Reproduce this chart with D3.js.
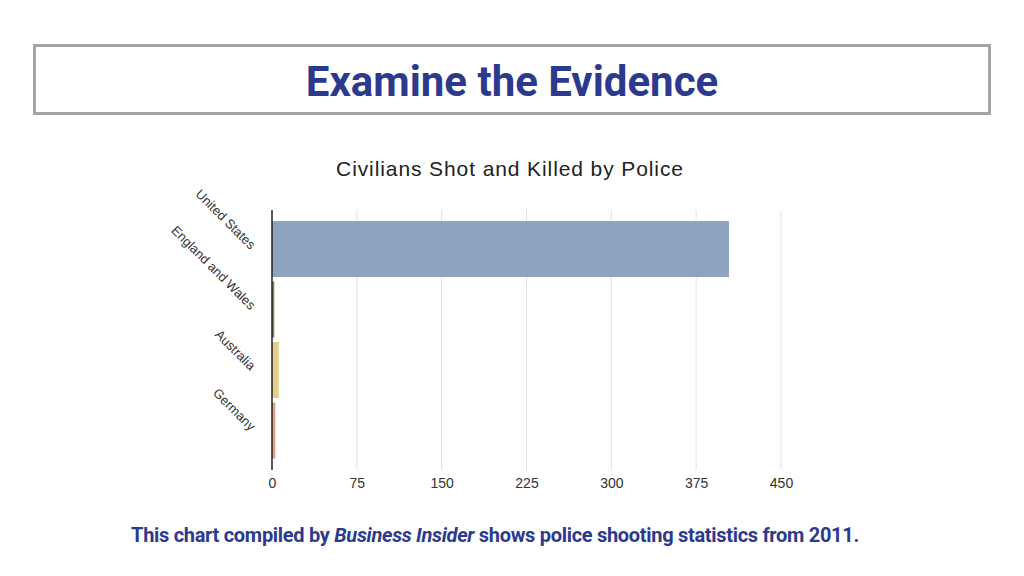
<!DOCTYPE html>
<html>
<head>
<meta charset="utf-8">
<script src="https://cdn.jsdelivr.net/npm/d3@7"></script>
<style>
  body { margin: 0; background: #fff; }
  svg { display: block; }
</style>
</head>
<body>
<div id="chart"></div>
<script>
// data
var countries = ["United States", "England and Wales", "Australia", "Germany"];
var killed = [404, 2, 6, 3];
var barColors = ["#8ea3bd", "#6f8f62", "#e2cf8a", "#e2a084"];
var tickValues = [0, 75, 150, 225, 300, 375, 450];

var W = 1024, H = 576;

var svg = d3.select("#chart").append("svg")
    .attr("width", W)
    .attr("height", H);

// header box
svg.append("rect")
    .attr("x", 34.5).attr("y", 45.5)
    .attr("width", 955).attr("height", 68)
    .attr("fill", "#fff")
    .attr("stroke", "#a3a3a3")
    .attr("stroke-width", 3);

svg.append("text")
    .attr("x", 512).attr("y", 96)
    .attr("text-anchor", "middle")
    .style("font-family", "Roboto, sans-serif")
    .style("font-weight", "bold")
    .style("font-size", "42px")
    .style("fill", "#2c3a8e")
    .text("Examine the Evidence");

// chart title
svg.append("text")
    .attr("x", 510).attr("y", 176)
    .attr("text-anchor", "middle")
    .style("font-family", "'Liberation Sans', Arial, sans-serif")
    .style("font-size", "21px")
    .style("letter-spacing", "0.9px")
    .style("fill", "#222")
    .text("Civilians Shot and Killed by Police");

var x = d3.scaleLinear().domain([0, 450]).range([272, 781]);
var y = d3.scaleBand().domain(countries).range([212, 467.6])
    .paddingInner(0.075).paddingOuter(0.15);

var plotTop = 210, plotBottom = 470;

// gridlines
svg.append("g").selectAll("line")
    .data(tickValues.slice(1))
    .enter().append("line")
    .attr("x1", function(d){ return x(d); })
    .attr("x2", function(d){ return x(d); })
    .attr("y1", plotTop).attr("y2", plotBottom)
    .style("stroke", "#e2e2e2")
    .style("stroke-width", "1px");

// bars
svg.append("g").selectAll("rect")
    .data(countries)
    .enter().append("rect")
    .attr("x", x(0))
    .attr("y", function(d){ return y(d); })
    .attr("width", function(d, i){ return x(killed[i]) - x(0); })
    .attr("height", y.bandwidth())
    .style("fill", function(d, i){ return barColors[i]; });

// x axis labels
var xAxis = svg.append("g")
    .attr("transform", "translate(0," + plotBottom + ")")
    .call(d3.axisBottom(x).tickValues(tickValues).tickSize(0).tickPadding(8));
xAxis.select(".domain").remove();
xAxis.selectAll("text")
    .style("font-family", "'Liberation Sans', Arial, sans-serif")
    .style("font-size", "14px")
    .style("fill", "#333");

// y axis line
svg.append("line")
    .attr("x1", x(0)).attr("x2", x(0))
    .attr("y1", plotTop).attr("y2", plotBottom)
    .style("stroke", "#222")
    .style("stroke-width", "1.5px");

// rotated category labels
svg.append("g").selectAll("text")
    .data(countries)
    .enter().append("text")
    .attr("text-anchor", "end")
    .attr("transform", function(d){
        return "translate(250," + (y(d) + y.bandwidth() / 2 + 1) + ") rotate(45)";
    })
    .style("font-family", "'Liberation Sans', Arial, sans-serif")
    .style("font-size", "13px")
    .style("fill", "#333")
    .text(function(d){ return d; });

// caption
var cap = svg.append("text")
    .attr("x", 495).attr("y", 542)
    .attr("text-anchor", "middle")
    .style("font-family", "Roboto, sans-serif")
    .style("font-weight", "bold")
    .style("font-size", "20px")
    .style("letter-spacing", "-0.3px")
    .style("fill", "#2c3a8e");
cap.append("tspan").text("This chart compiled by ");
cap.append("tspan").style("font-style", "italic").text("Business Insider");
cap.append("tspan").text(" shows police shooting statistics from 2011.");
</script>
</body>
</html>
